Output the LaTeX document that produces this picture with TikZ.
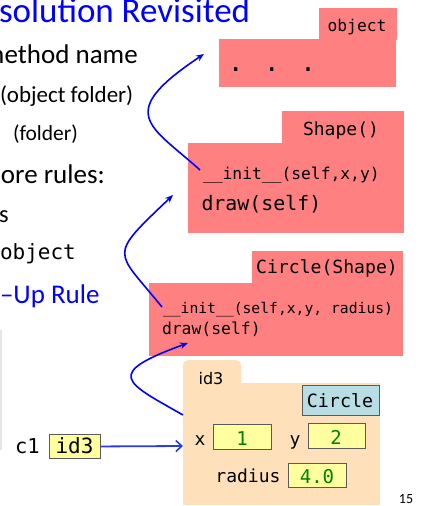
\documentclass[tikz,border=0pt]{standalone}
\usepackage{fontspec}
\setmainfont{Carlito}
\newfontfamily\monof{DejaVu Sans Mono}
\newfontfamily\dvsans{DejaVu Sans}
\usetikzlibrary{arrows.meta}
\definecolor{salmonbox}{RGB}{255,128,128}
\definecolor{peach}{RGB}{254,224,186}
\definecolor{valyellow}{RGB}{255,255,160}
\definecolor{classblue}{RGB}{182,222,228}
\definecolor{valgreen}{RGB}{0,128,0}
\definecolor{mroblue}{RGB}{0,0,255}
\definecolor{refblue}{RGB}{40,60,230}
\definecolor{edgegray}{RGB}{90,90,90}
\newcommand{\setfs}[1]{\fontsize{#1}{#1}\selectfont}
\begin{document}
\begin{tikzpicture}[x=1pt,y=-1pt,
  txt/.style={inner sep=0pt, outer sep=0pt},
  bw/.style={txt, anchor=base west},
  bc/.style={txt, anchor=base},
  mro/.style={draw=mroblue, line width=1.6pt, -{Stealth[length=8pt,width=6.5pt]}},
  refarrow/.style={draw=refblue, line width=1.8pt, -{Straight Barb[length=6pt,width=11pt,line width=1.6pt]}},
  valbox/.style={draw=edgegray, line width=0.9pt, fill=valyellow, inner sep=0pt, anchor=north west},
  classbox/.style={draw=edgegray, line width=0.9pt, fill=classblue, inner sep=0pt, anchor=north west},
]
\useasboundingbox (0,0) rectangle (424,506);
\clip (0,0) rectangle (424,506);

% left column text
\node[bw, text=blue, font=\setfs{35}] (title) at (-1,23) {solution Revisited};
\node[bw, font=\setfs{27}] (l1) at (-17,63) {method name};
\node[bw, font=\setfs{23}] (l2) at (0,102) {(object folder)};
\node[bw, font=\setfs{21.5}] (l3) at (13,140) {(folder)};
\node[bw, font=\setfs{27}] (l4) at (1,183) {ore rules:};
\node[bw, font=\setfs{24.5}] (l5) at (-1,222) {s};
\node[bw, font=\monof\setfs{21}] (l6) at (0,259) {object};
\node[bw, text=blue, font=\setfs{27}] (l7) at (0,303) {–Up Rule};
\fill[black!10] (0,330) rectangle (1.7,450);

% object box
\fill[salmonbox] (319,8) rectangle (397,40);
\fill[salmonbox] (219,39) rectangle (396,87);
\node[bc, font=\monof\setfs{16.3}] (objname) at (357,31) {object};
\node[bc, font=\monof\setfs{25.7}] (dots) at (272,71) {. . .};

% Shape box
\fill[salmonbox] (282,111) rectangle (404,144);
\fill[salmonbox] (188,143) rectangle (404,233);
\node[bc, font=\monof\setfs{18}] (shapename) at (341,135) {Shape()};
\node[bw, font=\monof\setfs{16.3}] (shapeinit) at (203,179) {\_\_init\_\_(self,x,y)};
\node[bw, font=\monof\setfs{19.9}] (shapedraw) at (201.5,210) {draw(self)};

% Circle box
\fill[salmonbox] (252,251) rectangle (403,284);
\fill[salmonbox] (149,283) rectangle (403,356);
\node[bc, font=\monof\setfs{18.1}] (circname) at (327,273) {Circle(Shape)};
\node[bw, font=\monof\setfs{14.7}] (circinit) at (163,313) {\_\_init\_\_(self,x,y, radius)};
\node[bw, font=\monof\setfs{16.4}] (circdraw) at (162,334) {draw(self)};

% instance frame
\fill[peach, rounded corners=5pt] (183,360) rectangle (241,395);
\fill[peach] (183,383) rectangle (380,505);
\node[bc, font=\dvsans\setfs{16}] (idtab) at (211,384) {id3};
\node[classbox, minimum width=77pt, minimum height=30pt] (cls) at (302,385) {};
\node[bc, font=\monof\setfs{18.3}] (clstxt) at (340,407) {Circle};
\node[bc, font=\monof\setfs{18}] (xl) at (200,445) {x};
\node[valbox, minimum width=58pt, minimum height=25pt] (xv) at (213,424) {};
\node[bc, font=\monof\setfs{19}, text=valgreen] (xvt) at (242,445) {1};
\node[bc, font=\monof\setfs{18}] (yl) at (295,445) {y};
\node[valbox, minimum width=57pt, minimum height=25pt] (yv) at (308,423) {};
\node[bc, font=\monof\setfs{19}, text=valgreen] (yvt) at (336,444) {2};
\node[bc, font=\monof\setfs{18}] (rl) at (248,482) {radius};
\node[valbox, minimum width=58pt, minimum height=24pt] (rv) at (288,463) {};
\node[bc, font=\monof\setfs{19}, text=valgreen] (rvt) at (317,483) {4.0};
\node[bc, font=\setfs{14}] (pg) at (406,503) {15};

% reference c1
\node[bw, font=\monof\setfs{20.5}] (c1) at (15,453) {c1};
\node[valbox, minimum width=51pt, minimum height=24pt] (ref) at (49,434) {};
\node[bc, font=\monof\setfs{21}] (reft) at (74.5,453) {id3};
\coordinate (framein) at (183,446);
\draw[refarrow] (ref.east) -- (framein);

% MRO arrows
\coordinate (a1s) at (183,415); \coordinate (a1e) at (188,343);
\coordinate (a2s) at (162,307); \coordinate (a2e) at (173,195);
\coordinate (a3s) at (200,170); \coordinate (a3e) at (204,54);
\draw[mro] (a1s) .. controls +(-58,-33) and +(-85,31) .. (a1e);
\draw[mro] (a2s) .. controls +(-47,-58) and +(-66,63) .. (a2e);
\draw[mro] (a3s) .. controls +(-50,-45) and +(-90,60) .. (a3e);
\end{tikzpicture}
\end{document}
